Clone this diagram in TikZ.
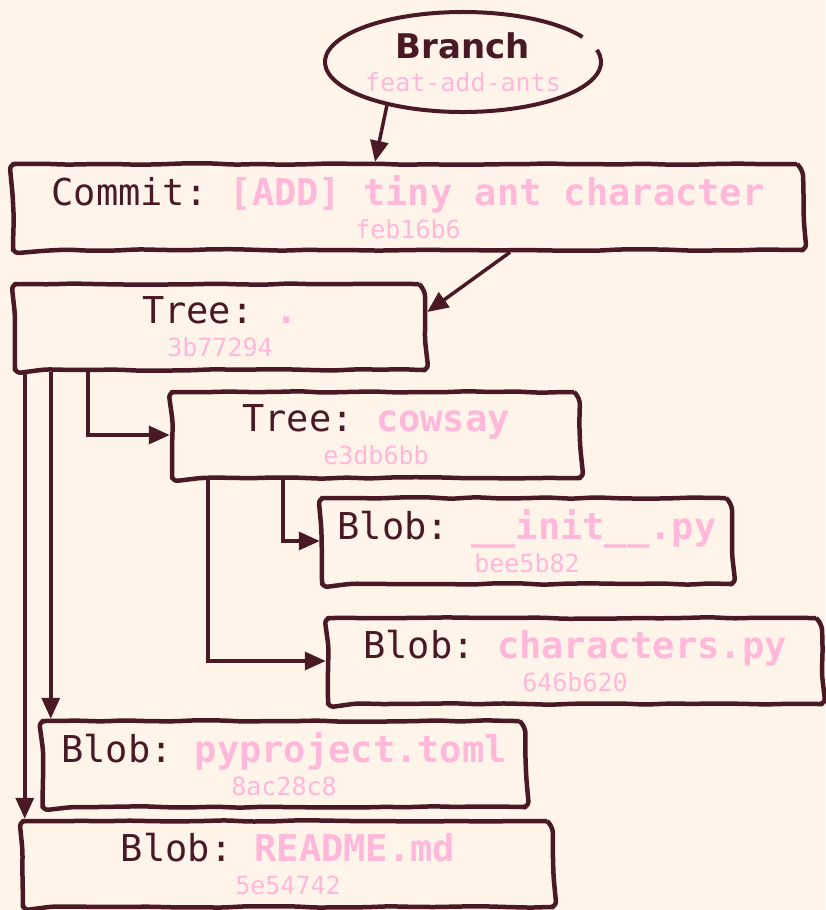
\documentclass[tikz,border=0pt]{standalone}
\usepackage{fontspec}
\setmonofont{DejaVu Sans Mono}
\setsansfont{DejaVu Sans}
\usetikzlibrary{positioning,shapes.geometric,decorations.pathmorphing,arrows.meta}
\definecolor{paper}{HTML}{FFF4EA}
\definecolor{ink}{HTML}{4A1A24}
\definecolor{rose}{HTML}{FFB8D9}
\newcommand{\hashfont}{\ttfamily\fontsize{25}{32}\selectfont\color{rose}}
\newcommand{\gitlabel}[3]{#1: {\bfseries\color{rose}#2}\\{\hashfont #3}}
\tikzset{obj/.style={draw=ink,line width=4.5pt,line join=round,rounded corners=6pt,inner sep=0pt,align=center,minimum height=86pt,text=ink,font=\ttfamily\fontsize{37}{33}\selectfont,decorate,decoration={random steps,segment length=24pt,amplitude=0.8pt,pre length=10pt,post length=10pt}},
link/.style={draw=ink,line width=3.5pt,-{Triangle[length=21pt,width=18pt]}}}
\pgfmathsetseed{7}

\begin{document}
\begin{tikzpicture}[x=1pt,y=-1pt]
\fill[paper] (0,0) rectangle (825,910);
\useasboundingbox (0,0) rectangle (825,910);

\node[ellipse,minimum width=276pt,minimum height=100pt,inner sep=0pt,align=center,text=ink,font=\fontsize{34}{33}\selectfont] (branch) at (463,62) {{\sffamily\bfseries Branch}\\{\hashfont feat-add-ants}};
\draw[ink,line width=4pt] (branch.center) ++(-14:138 and 50) arc[start angle=-14,end angle=330,x radius=138,y radius=50];

\node[obj,minimum width=790pt] (commit) at (408,207) {\gitlabel{Commit}{[ADD] tiny ant character}{feb16b6}};
\node[obj,minimum width=410pt] (root) at (220,327) {\gitlabel{Tree}{.}{3b77294}};
\node[obj,minimum width=408pt] (cowsay) at (376,435) {\gitlabel{Tree}{cowsay}{e3db6bb}};
\node[obj,minimum width=410pt] (init) at (527,541) {\gitlabel{Blob}{\_\_init\_\_.py}{bee5b82}};
\node[obj,minimum width=494pt] (chars) at (575,661) {\gitlabel{Blob}{characters.py}{646b620}};
\node[obj,minimum width=483pt] (pyproj) at (284,764) {\gitlabel{Blob}{pyproject.toml}{8ac28c8}};
\node[obj,minimum width=530pt] (readme) at (288,864) {\gitlabel{Blob}{README.md}{5e54742}};

\draw[link] (branch.209) -- ([xshift=-33pt]commit.north);
\draw[link] ([xshift=102pt]commit.south) -- ([yshift=15pt]root.east);
\draw[link] ([xshift=75pt]root.south west) |- (cowsay.west);
\draw[link] ([xshift=38pt]root.south west) coordinate (r2) -- (r2 |- pyproj.north);
\draw[link] ([xshift=12pt]root.south west) coordinate (r1) -- (r1 |- readme.north);
\draw[link] ([xshift=113pt]cowsay.south west) |- (init.west);
\draw[link] ([xshift=38pt]cowsay.south west) |- (chars.west);
\end{tikzpicture}
\end{document}
